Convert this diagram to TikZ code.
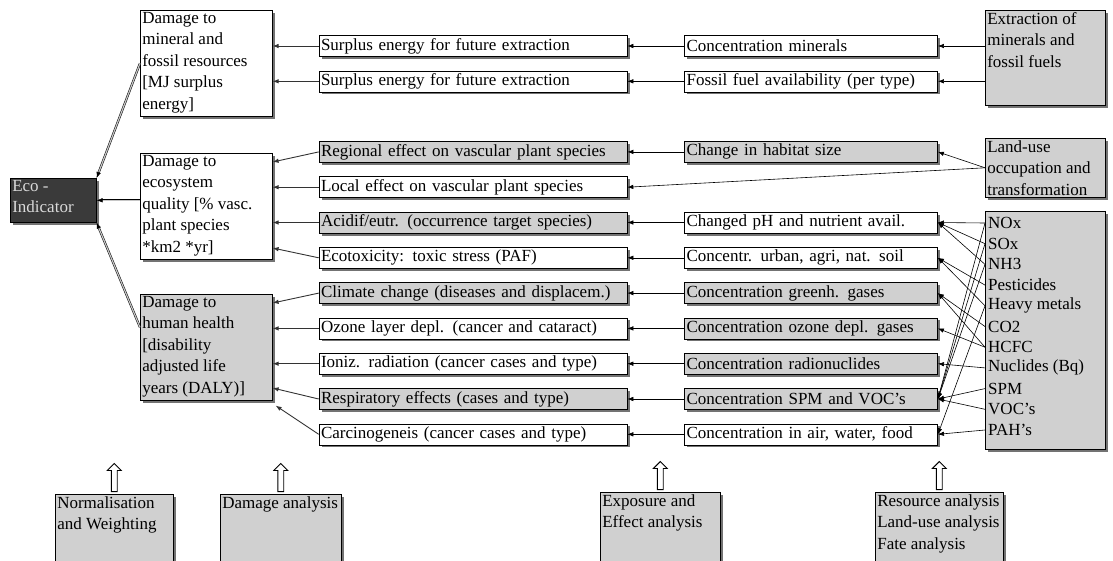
\documentclass[tikz,border=0pt]{standalone}
\usepackage{fontspec}
\setmainfont{Liberation Serif}
\usepackage{tikz}
\usetikzlibrary{positioning}
\usetikzlibrary{arrows.meta}
\usetikzlibrary{shadows}
\usetikzlibrary{shapes.arrows}
\definecolor{boxgray}{RGB}{208,208,208}
\definecolor{darkbox}{RGB}{58,58,58}
\tikzset {
  node distance={35.3pt},
  >={Latex[length=6pt,width=4.5pt]},
  % every box: thin frame with a hard shadow
  box/.style = {draw, fill=white, line width=0.6pt, inner sep=2pt,
    drop shadow={shadow xshift=2.5pt, shadow yshift=-2.5pt, fill=black!55, opacity=1}},
  grey/.style = {fill=boxgray},
  % one line boxes of the two middle columns
  effect/.style = {box, minimum height=21pt, text width=304pt, align=left},
  fate/.style = {box, minimum height=21pt, text width=249pt, align=left},
  emis/.style = {anchor=west, inner sep=0pt},
  % connectors
  link/.style = {->, line width=0.6pt},
  dlink/.style = {->, line width=0.9pt, draw=black!80},
  agg/.style = {->, double=gray!45, double distance=1.2pt, line width=0.5pt},
  % hollow block arrow above the analysis steps
  uparrow/.style = {single arrow, draw, fill=white, line width=0.9pt, shape border rotate=90,
    minimum height=28pt, inner sep=2.5pt, single arrow head extend=4pt},
}
\newcommand{\topbox}[3]{\parbox[t][#2][t]{#1}{\raggedright #3}}

\begin{document}
\begin{tikzpicture}[x=1pt, y=-1pt, every node/.style={font=\fontsize{17}{21.5}\selectfont}]
  \useasboundingbox (0,0) rectangle (1113,560);

  % aggregated indicator and damage categories
  \node[box, fill=darkbox, text=white!85!black, anchor=north west] (EcoInd) at (10,178)
    {\topbox{82pt}{40pt}{Eco -\\Indicator}};
  \node[box, anchor=north west] (dMin) at (140,10)
    {\topbox{128pt}{102pt}{Damage to\\mineral and\\fossil resources\\{}[MJ surplus\\energy]}};
  \node[box, anchor=north west] (dEco) at (140,153)
    {\topbox{128pt}{102pt}{Damage to\\ecosystem\\quality [\% vasc.\\plant species\\{}*km2 *yr]}};
  \node[box, grey, anchor=north west] (dHum) at (140,294)
    {\topbox{128pt}{102pt}{Damage to\\human health\\{}[disability\\adjusted life\\years (DALY)]}};

  % effect column
  \node[effect] (m1) at (473,46) {Surplus energy for future extraction};
  \node[effect] (m2) [below of=m1] {Surplus energy for future extraction};
  \node[effect, grey] (m3) [below of=m2, node distance=70.6pt] {Regional effect on vascular plant species};
  \node[effect] (m4) [below of=m3] {Local effect on vascular plant species};
  \node[effect, grey] (m5) [below of=m4] {Acidif/eutr. (occurrence target species)};
  \node[effect] (m6) [below of=m5] {Ecotoxicity: toxic stress (PAF)};
  \node[effect, grey] (m7) [below of=m6] {Climate change (diseases and displacem.)};
  \node[effect] (m8) [below of=m7] {Ozone layer depl. (cancer and cataract)};
  \node[effect] (m9) [below of=m8] {Ioniz. radiation (cancer cases and type)};
  \node[effect, grey] (m10) [below of=m9] {Respiratory effects (cases and type)};
  \node[effect] (m11) [below of=m10] {Carcinogeneis (cancer cases and type)};

  % fate and exposure column
  \node[fate] (c1) [right=57pt of m1] {Concentration minerals};
  \node[fate] (c2) [right=57pt of m2] {Fossil fuel availability (per type)};
  \node[fate, grey] (c3) [right=57pt of m3] {Change in habitat size};
  \node[fate] (c5) [right=57pt of m5] {Changed pH and nutrient avail.};
  \node[fate] (c6) [right=57pt of m6] {Concentr. urban, agri, nat. soil};
  \node[fate, grey] (c7) [right=57pt of m7] {Concentration greenh. gases};
  \node[fate, grey] (c8) [right=57pt of m8] {Concentration ozone depl. gases};
  \node[fate, grey] (c9) [right=57pt of m9] {Concentration radionuclides};
  \node[fate, grey] (c10) [right=57pt of m10] {Concentration SPM and VOC's};
  \node[fate] (c11) [right=57pt of m11] {Concentration in air, water, food};

  % inventory
  \node[box, grey, anchor=north west] (dExt) at (985,10)
    {\topbox{116pt}{91pt}{Extraction of\\minerals and\\fossil fuels}};
  \node[box, grey, anchor=north west] (dLand) at (985,138)
    {\topbox{116pt}{55pt}{Land-use\\occupation and\\transformation}};
  \node[box, grey, anchor=north west, minimum width=120pt, minimum height=238pt] (dEmis) at (985,211) {};
  \foreach \nm/\txt [count=\i] in {nox/NOx, sox/SOx, nh3/NH3, pest/Pesticides,
      hm/Heavy metals, co2/CO2, hcfc/HCFC, nucl/Nuclides (Bq), spm/SPM, voc/VOC's, pah/PAH's}
    \node[emis] (\nm) at (988,{223+(\i-1)*20.7}) {\txt};

  % analysis steps
  \node[box, grey, anchor=north west] (bNorm) at (55,494)
    {\topbox{114pt}{70pt}{Normalisation\\and Weighting}};
  \node[box, grey, anchor=north west] (bDam) at (220,494)
    {\topbox{117pt}{70pt}{Damage analysis}};
  \node[box, grey, anchor=north west] (bExp) at (600,492)
    {\topbox{116pt}{70pt}{Exposure and\\Effect analysis}};
  \node[box, grey, anchor=north west] (bRes) at (875,492)
    {\topbox{124pt}{70pt}{Resource analysis\\Land-use analysis\\Fate analysis}};
  \foreach \b in {bNorm, bDam, bExp, bRes}
    \node[uparrow, anchor=tail] (\b up) at ([yshift=2pt]\b.north) {};

  % damage to indicator
  \draw[agg] (dMin.west) -- (EcoInd.north east);
  \draw[agg] (dEco.west |- EcoInd.east) -- (EcoInd.east);
  \draw[agg] ([yshift=20pt]dHum.west) -- (EcoInd.south east);

  % effects to damage
  \draw[dlink] (m1.west) -- (m1.west -| dMin.east);
  \draw[dlink] (m2.west) -- (m2.west -| dMin.east);
  \draw[dlink] (m3.west) -- ([yshift=-9pt]dEco.north east);
  \draw[dlink] (m4.west) -- (m4.west -| dEco.east);
  \draw[dlink] (m5.west) -- (m5.west -| dEco.east);
  \draw[dlink] (m6.west) -- ([yshift=-95pt]dEco.north east);
  \draw[dlink] (m7.west) -- ([yshift=-9pt]dHum.north east);
  \draw[dlink] (m8.west) -- (m8.west -| dHum.east);
  \draw[dlink] (m9.west) -- (m9.west -| dHum.east);
  \draw[dlink] (m10.west) -- ([yshift=-94pt]dHum.north east);
  \draw[dlink] (m11.west) -- ([shift={(3pt,-5pt)}]dHum.south east);

  % fate to effects
  \foreach \i in {1,2,3,5,6,7,8,9,10,11}
    \draw[link] (c\i.west) -- (m\i.east);
  \draw[link] (dLand.west) -- (m4.east);

  % inventory to fate
  \draw[link] (dExt.west |- c1) -- (c1.east);
  \draw[link] (dExt.west |- c2) -- (c2.east);
  \draw[link] (dLand.west) -- (c3.east);
  \foreach \src/\dst in {nox/c5, sox/c5, nh3/c5, pest/c6, hm/c6, co2/c7, hcfc/c7,
      hcfc/c8, nucl/c9, spm/c10, voc/c10, nox/c10, sox/c10, nh3/c10, hm/c11, pah/c11}
    \draw[link] (dEmis.west |- \src) -- (\dst.east);
\end{tikzpicture}
\end{document}
